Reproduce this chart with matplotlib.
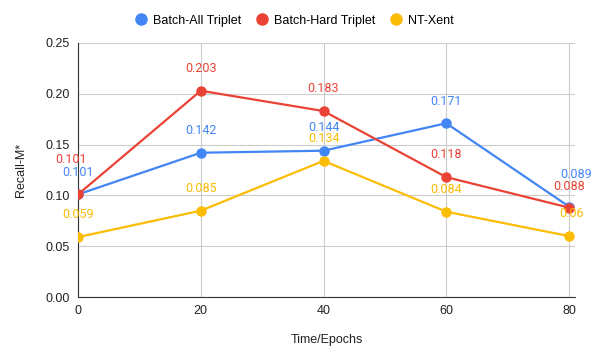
import matplotlib.pyplot as plt

# data
epochs = [0, 20, 40, 60, 80]
batch_all = [0.101, 0.142, 0.144, 0.171, 0.089]
batch_hard = [0.101, 0.203, 0.183, 0.118, 0.088]
nt_xent = [0.059, 0.085, 0.134, 0.084, 0.06]
names = ["Batch-All Triplet", "Batch-Hard Triplet", "NT-Xent"]
colors = ["#4285F4", "#EA4335", "#FBBC04"]

# label offsets in points (dx, dy) so the labels don't collide
offsets = [
    [(0, 16), (0, 16), (0, 17), (0, 16), (5, 23)],
    [(-5, 25), (0, 16), (0, 16), (0, 16), (0, 15)],
    [(0, 16), (0, 16), (0, 16), (0, 16), (2, 16)],
]

plt.rcParams['font.family'] = ['Liberation Sans', 'DejaVu Sans']

fig = plt.figure(figsize=(5.91, 3.52), dpi=100)
ax = fig.add_axes([0.132, 0.156, 0.841, 0.722])

series = [batch_all, batch_hard, nt_xent]
for vals, name, col, offs in zip(series, names, colors, offsets):
    ax.plot(epochs, vals, color=col, lw=1.6, marker="o", ms=6.5, label=name, zorder=3)
    for x, y, (dx, dy) in zip(epochs, vals, offs):
        lab = ("%.3f" % y).rstrip("0")
        ax.annotate(lab, (x, y), xytext=(dx, dy), textcoords="offset points",
                    ha="center", va="center", color=col, fontsize=9,
                    family="Roboto", zorder=4)

ax.set_xlim(0, 80.98)
ax.set_ylim(0, 0.25)
ax.set_xticks(epochs)
ax.set_yticks([0, 0.05, 0.10, 0.15, 0.20, 0.25])
ax.set_yticklabels(["0.00", "0.05", "0.10", "0.15", "0.20", "0.25"])
ax.grid(True, color="#cccccc", lw=0.8)
ax.set_axisbelow(True)
for s in ["top", "right"]:
    ax.spines[s].set_visible(False)
ax.spines["left"].set_color("#333333")
ax.spines["bottom"].set_color("#333333")
ax.tick_params(length=0, labelsize=9, colors="#222222", pad=6)
ax.set_xlabel("Time/Epochs", fontsize=9, color="#222222", labelpad=12)
ax.set_ylabel("Recall-M*", fontsize=9, color="#222222", labelpad=13)

leg = fig.legend(loc="upper center", bbox_to_anchor=(0.5, 0.99), ncol=3, frameon=False,
                 fontsize=9, handlelength=0.6, handletextpad=0.7, columnspacing=1.3)
for h in leg.legend_handles:
    h.set_linestyle("none")
    h.set_markersize(8)

fig.savefig("out.png", dpi=100)
